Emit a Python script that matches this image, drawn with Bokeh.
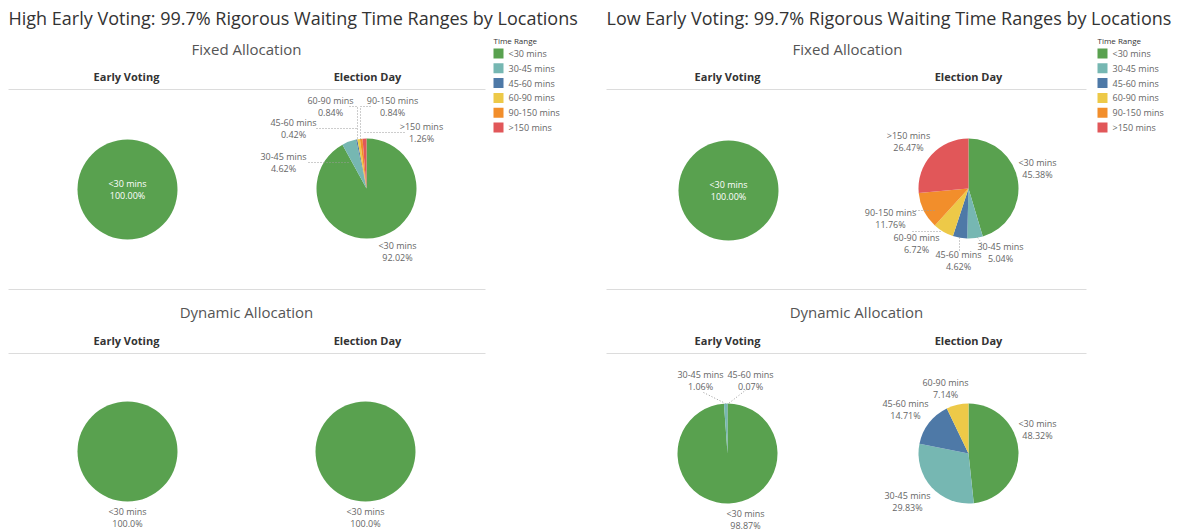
import numpy as np
from bokeh.plotting import figure
from bokeh.models import Range1d, ColumnDataSource
from bokeh.embed import file_html
from bokeh.resources import INLINE
from bokeh.core.properties import value

# ---------------- data ----------------
categories = ["<30 mins", "30-45 mins", "45-60 mins", "60-90 mins", "90-150 mins", ">150 mins"]
colors = ["#59a14f", "#76b7b2", "#4e79a7", "#edc948", "#f28e2b", "#e15759"]

high_fixed_early = [100.0, 0, 0, 0, 0, 0]
high_fixed_eday = [92.02, 4.62, 0.42, 0.84, 0.84, 1.26]
high_dyn_early = [100.0, 0, 0, 0, 0, 0]
high_dyn_eday = [100.0, 0, 0, 0, 0, 0]
low_fixed_early = [100.0, 0, 0, 0, 0, 0]
low_fixed_eday = [45.38, 5.04, 4.62, 6.72, 11.76, 26.47]
low_dyn_early = [98.87, 1.06, 0.07, 0, 0, 0]
low_dyn_eday = [48.32, 29.83, 14.71, 7.14, 0, 0]

titles = ["High Early Voting: 99.7% Rigorous Waiting Time Ranges by Locations",
          "Low Early Voting: 99.7% Rigorous Waiting Time Ranges by Locations"]
sections = ["Fixed Allocation", "Dynamic Allocation"]
columns = ["Early Voting", "Election Day"]
legend_title = "Time Range"

# ---------------- layout ----------------
FONT = "Open Sans"
W, H = 1183, 531
p = figure(width=W, height=H, x_range=Range1d(0, W), y_range=Range1d(0, H),
           output_backend="svg", toolbar_location=None, x_axis_type=None, y_axis_type=None,
           min_border=0, background_fill_color="white")
p.grid.visible = False
p.outline_line_color = None


def Y(y):
    return H - y


def txt(x, y, s, size, color, align="center", style="normal"):
    p.text(x=[x], y=[Y(y)], text=[s], text_font=value(FONT), text_font_size=size,
           text_color=color, text_align=align, text_baseline="middle", text_font_style=style)


R = 50


def pie(vals, cx, cy, labels, leaders, decimals=2):
    v = np.array(vals, dtype=float)
    frac = v / v.sum()
    cum = np.concatenate([[0.0], np.cumsum(frac)])
    start = np.pi / 2 - 2 * np.pi * cum[:-1]
    end = np.pi / 2 - 2 * np.pi * cum[1:]
    m = frac > 0
    if m.sum() == 1:
        i = int(np.argmax(frac))
        p.circle(x=[cx], y=[Y(cy)], radius=R, fill_color=colors[i], line_color=None)
    else:
        src = ColumnDataSource(dict(x=[cx] * int(m.sum()), y=[Y(cy)] * int(m.sum()),
                                    s=start[m], e=end[m],
                                    c=[c for c, k in zip(colors, m) if k]))
        p.wedge(x="x", y="y", radius=R, start_angle="s", end_angle="e", direction="clock",
                fill_color="c", line_color=None, source=src)
    for pts in leaders:
        p.line(x=[a for a, b in pts], y=[Y(b) for a, b in pts], line_color="#9a9a9a",
               line_width=1, line_dash="1 2")
    for i, (lx, ly, col) in labels.items():
        txt(lx, ly, categories[i], "9px", col)
        txt(lx, ly + 11.5, f"{vals[i]:.{decimals}f}%", "9px", col)


LAB = "#666666"

for k, x0 in enumerate([0, 601]):
    txt(8 + x0 - (3 if k else 0), 17, titles[k], "18px", "#333333", align="left")
    # section headers
    txt(246 + x0, 48, sections[0], "15px", "#555555")
    txt(246 + x0 + (9 if k else 0), 311, sections[1], "15px", "#555555")
    for cy in [76, 340]:
        txt(126 + x0, cy, columns[0], "11px", "#333333", style="bold")
        txt(367 + x0, cy, columns[1], "11px", "#333333", style="bold")
    for ly in [89, 289, 353]:
        p.line(x=[8 + x0 - (0 if k == 0 else 3), 485 + x0], y=[Y(ly), Y(ly)],
               line_color="#dcdcdc", line_width=1)
    # legend
    lx = 493 + x0 + (3 if k else 0)
    txt(lx, 40, legend_title, "8px", "#333333", align="left")
    ys = [53 + 14.8 * i for i in range(len(categories))]
    p.scatter(x=[lx + 5] * len(categories), y=[Y(v) for v in ys], marker="square", size=10,
              fill_color=colors, line_color=None)
    for i, c in enumerate(categories):
        txt(lx + 15, ys[i], c, "9px", "#666666", align="left")

# High early voting
pie(high_fixed_early, 127, 189, {0: (127, 183, "white")}, [])
pie(high_fixed_eday, 366, 188,
    {3: (330, 100, LAB), 4: (392, 100, LAB), 2: (293, 122, LAB), 5: (421, 126, LAB),
     1: (283, 156, LAB), 0: (397, 245, LAB)},
    [[(349, 106), (357, 106), (357, 140)], [(370, 106), (360, 106), (360, 140)],
     [(316, 128), (356, 128)], [(364, 132), (404, 132)], [(308, 162), (350, 162)]])
pie(high_dyn_early, 127, 451, {0: (127, 511, LAB)}, [], decimals=1)
pie(high_dyn_eday, 365, 451, {0: (365, 511, LAB)}, [], decimals=1)

# Low early voting
pie(low_fixed_early, 728, 190, {0: (728, 184, "white")}, [])
pie(low_fixed_eday, 968, 188,
    {5: (908, 135, LAB), 0: (1037, 162, LAB), 4: (890, 212, LAB), 3: (916, 237, LAB),
     2: (958, 254, LAB), 1: (1000, 246, LAB)},
    [[(912, 210), (935, 210)], [(912, 231), (942, 231)], [(959, 237), (959, 250)],
     [(977, 237), (983, 245)]])
pie(low_dyn_early, 727, 453,
    {1: (700, 374, LAB), 0: (745, 513, LAB), 2: (750, 374, LAB)},
    [[(703, 392), (725, 403)], [(746, 389), (728, 403)]])
pie(low_dyn_eday, 968, 453,
    {3: (945, 382, LAB), 2: (905, 403, LAB), 0: (1037, 423, LAB), 1: (907, 495, LAB)}, [])

open("out.html", "w").write(file_html(p, INLINE))
